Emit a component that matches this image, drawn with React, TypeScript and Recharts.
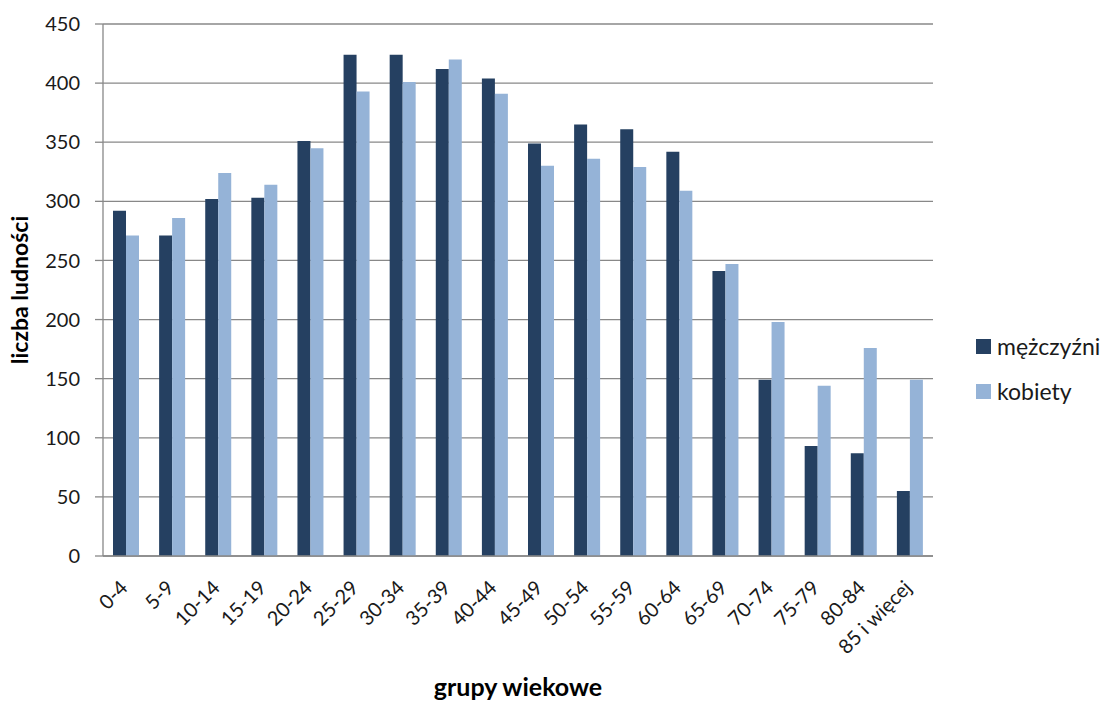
import React from 'react';
import { BarChart, Bar, XAxis, YAxis, CartesianGrid, Label } from 'recharts';

const categories = ['0-4', '5-9', '10-14', '15-19', '20-24', '25-29', '30-34', '35-39', '40-44', '45-49', '50-54', '55-59', '60-64', '65-69', '70-74', '75-79', '80-84', '85 i więcej'];
const men = [292, 271, 302, 303, 351, 424, 424, 412, 404, 349, 365, 361, 342, 241, 149, 93, 87, 55];
const women = [271, 286, 324, 314, 345, 393, 401, 420, 391, 330, 336, 329, 309, 247, 198, 144, 176, 149];
const yTicks = [0, 50, 100, 150, 200, 250, 300, 350, 400, 450];
const seriesNames = ['mężczyźni', 'kobiety'];

const data = categories.map((c, i) => ({ group: c, men: men[i], women: women[i] }));

const FONT = 'Lato, "Open Sans", sans-serif';
const DARK = '#254061';
const LIGHT = '#95B3D7';
const GRID = '#888888';
const TEXT = '#1a1a1a';

const XTick = (props: any) => {
  const { x, y, payload } = props;
  const ax = x + 3;
  const ay = y + 33;
  return (
    <text
      x={ax}
      y={ay}
      textAnchor="end"
      transform={`rotate(-45, ${ax}, ${ay})`}
      fontSize={20}
      fill={TEXT}
      fontFamily={FONT}
    >
      {payload.value}
    </text>
  );
};

export default function App() {
  const colors = [DARK, LIGHT];
  return (
    <div style={{ position: 'relative', width: 1108, height: 702, fontFamily: FONT }}>
      <style>{'body{margin:0}'}</style>
      <BarChart
        width={1108}
        height={702}
        data={data}
        margin={{ top: 24, right: 175, left: 8, bottom: 0 }}
        barCategoryGap="21.7%"
        barGap={0}
      >
        <CartesianGrid vertical={false} stroke={GRID} strokeWidth={1.3} />
        <XAxis
          dataKey="group"
          interval={0}
          tickLine={false}
          tickSize={0}
          tickMargin={0}
          height={146}
          axisLine={{ stroke: GRID, strokeWidth: 1.5 }}
          tick={<XTick />}
        >
          <Label
            value="grupy wiekowe"
            position="insideBottom"
            offset={6}
            style={{ fontWeight: 700, fontSize: 25, fill: '#000', fontFamily: FONT }}
          />
        </XAxis>
        <YAxis
          width={95}
          domain={[0, 450]}
          ticks={yTicks}
          interval={0}
          tickSize={8}
          tickMargin={15}
          tickLine={{ stroke: GRID, strokeWidth: 1.3 }}
          axisLine={{ stroke: GRID, strokeWidth: 1.3 }}
          tick={{ fontSize: 20, fill: TEXT, fontFamily: FONT }}
        >
          <Label
            value="liczba ludności"
            angle={-90}
            position="insideLeft"
            offset={12}
            style={{ textAnchor: 'middle', fontWeight: 700, fontSize: 23, fill: '#000', fontFamily: FONT }}
          />
        </YAxis>
        <Bar dataKey="men" name={seriesNames[0]} fill={DARK} isAnimationActive={false} />
        <Bar dataKey="women" name={seriesNames[1]} fill={LIGHT} isAnimationActive={false} />
      </BarChart>
      {seriesNames.map((name, i) => (
        <div
          key={name}
          style={{
            position: 'absolute',
            left: 976,
            top: 331 + i * 45,
            height: 30,
            display: 'flex',
            alignItems: 'center',
            fontSize: 23,
            color: TEXT,
            whiteSpace: 'nowrap',
          }}
        >
          <span style={{ display: 'inline-block', width: 15, height: 15, background: colors[i], marginRight: 6 }} />
          <span>{name}</span>
        </div>
      ))}
    </div>
  );
}
